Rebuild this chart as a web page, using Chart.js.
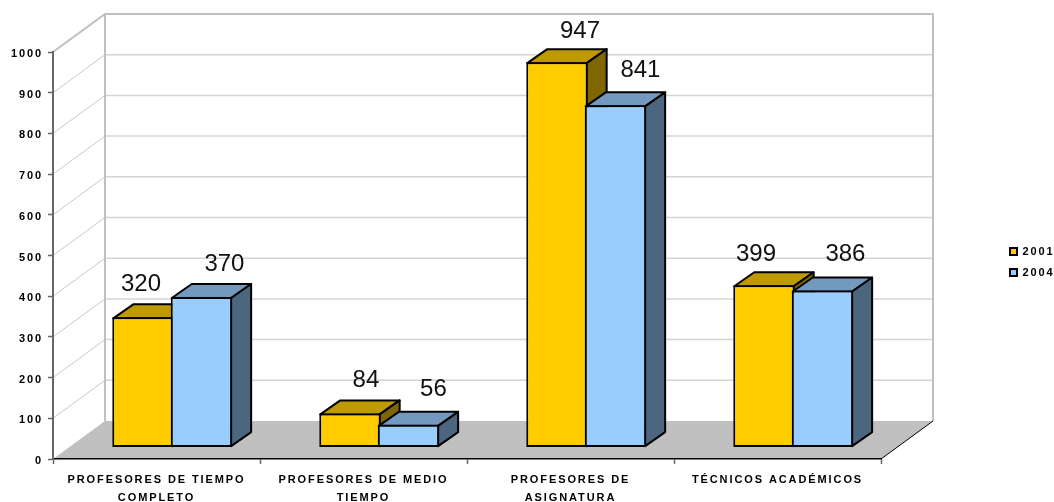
<!DOCTYPE html>
<html lang="es">
<head>
    <meta charset="UTF-8">
    <title>Personal académico 2001 - 2004</title>
    <script src="https://cdn.jsdelivr.net/npm/chart.js"></script>
    <style>
        html, body { margin: 0; padding: 0; background: #fff; }
        canvas { display: block; }
    </style>
</head>
<body>
    <canvas id="grafica" width="1054" height="502"></canvas>
    <script>
        const categorias = [
            ['PROFESORES DE TIEMPO', 'COMPLETO'],
            ['PROFESORES DE MEDIO', 'TIEMPO'],
            ['PROFESORES DE', 'ASIGNATURA'],
            'TÉCNICOS ACADÉMICOS'
        ];
        const valores2001 = [320, 84, 947, 399];
        const valores2004 = [370, 56, 841, 386];

        // desplazamiento de cada etiqueta respecto al centro y la cara superior de su barra
        const ajusteEtiquetas = [
            [[-2, -33], [16, -33], [23, -31], [-8, -31]],
            [[23, -33], [25, -35], [25, -35], [23, -36]]
        ];

        const ESPACIADO = '1.9px';
        const muro = { dx: 52, dy: 38 };     // fondo de la caja 3D
        const base = { dx: 15.7, dy: 11.4 }; // las barras se apoyan a media profundidad
        const prof = { dx: 20, dy: 14 };     // profundidad de cada barra
        const caras = [
            { arriba: '#BF9900', lado: '#806600' },
            { arriba: '#7399BF', lado: '#4D6680' }
        ];

        function poligono(ctx, puntos, relleno) {
            ctx.beginPath();
            puntos.forEach((p, i) => i ? ctx.lineTo(p[0], p[1]) : ctx.moveTo(p[0], p[1]));
            ctx.closePath();
            ctx.fillStyle = relleno;
            ctx.fill();
            ctx.stroke();
        }

        const caja3D = {
            id: 'caja3D',
            beforeLayout(chart) {
                chart.ctx.letterSpacing = ESPACIADO;
            },
            afterLayout(chart) {
                // leyenda fuera del area del grafico
                Object.assign(chart.legend, { left: 1000, right: 1054, top: 236, bottom: 330 });
            },
            beforeDraw(chart) {
                const ctx = chart.ctx;
                const { left, right, top, bottom } = chart.chartArea;
                ctx.letterSpacing = ESPACIADO;
                ctx.save();

                // suelo
                ctx.fillStyle = '#C0C0C0';
                ctx.beginPath();
                ctx.moveTo(left, bottom);
                ctx.lineTo(left + muro.dx, bottom - muro.dy);
                ctx.lineTo(right + muro.dx, bottom - muro.dy);
                ctx.lineTo(right, bottom);
                ctx.closePath();
                ctx.fill();

                // rejilla del fondo y de la pared izquierda
                chart.scales.y.ticks.forEach(t => {
                    const y = chart.scales.y.getPixelForValue(t.value);
                    if (t.value === 0) return;
                    ctx.strokeStyle = '#C8C8C8';
                    ctx.lineWidth = 1;
                    ctx.beginPath();
                    ctx.moveTo(left, y);
                    ctx.lineTo(left + muro.dx, y - muro.dy);
                    ctx.stroke();
                    ctx.strokeStyle = '#D4D4D4';
                    ctx.lineWidth = 1.5;
                    ctx.beginPath();
                    ctx.moveTo(left + muro.dx, y - muro.dy);
                    ctx.lineTo(right + muro.dx, y - muro.dy);
                    ctx.stroke();
                });

                // contorno de los muros
                ctx.strokeStyle = '#C0C0C0';
                ctx.lineWidth = 2;
                ctx.beginPath();
                ctx.moveTo(left, top);
                ctx.lineTo(left + muro.dx, top - muro.dy);
                ctx.lineTo(right + muro.dx, top - muro.dy);
                ctx.lineTo(right + muro.dx, bottom - muro.dy);
                ctx.moveTo(left + muro.dx, top - muro.dy);
                ctx.lineTo(left + muro.dx, bottom - muro.dy);
                ctx.stroke();

                // borde derecho del suelo
                ctx.strokeStyle = '#000';
                ctx.lineWidth = 1;
                ctx.beginPath();
                ctx.moveTo(right, bottom);
                ctx.lineTo(right + muro.dx, bottom - muro.dy);
                ctx.stroke();
                ctx.restore();
            },
            beforeDatasetsDraw(chart) {
                const ctx = chart.ctx;
                // izquierda a derecha: cada barra tapa el lateral de la anterior
                chart.data.datasets.forEach((ds, i) => {
                    const meta = chart.getDatasetMeta(i);
                    ctx.save();
                    ctx.translate(base.dx, -base.dy);
                    ctx.strokeStyle = '#000';
                    ctx.lineWidth = 2;
                    ctx.lineJoin = 'round';
                    meta.data.forEach(barra => {
                        const { x, y, base: y0, width } = barra.getProps(['x', 'y', 'base', 'width'], true);
                        const x0 = x - width / 2 + 1, x1 = x + width / 2 - 1;
                        const yArriba = y + 1, yAbajo = y0 - 1;
                        poligono(ctx, [[x0, yArriba], [x0 + prof.dx, yArriba - prof.dy], [x1 + prof.dx, yArriba - prof.dy], [x1, yArriba]], caras[i].arriba);
                        poligono(ctx, [[x1, yArriba], [x1 + prof.dx, yArriba - prof.dy], [x1 + prof.dx, yAbajo - prof.dy], [x1, yAbajo]], caras[i].lado);
                    });
                    meta.controller.draw();
                    ctx.restore();
                });

                // etiquetas de valor
                ctx.save();
                ctx.letterSpacing = '0px';
                ctx.font = '24px "Liberation Sans", Arial, sans-serif';
                ctx.fillStyle = '#111';
                ctx.textAlign = 'center';
                ctx.textBaseline = 'middle';
                chart.data.datasets.forEach((ds, i) => {
                    chart.getDatasetMeta(i).data.forEach((barra, j) => {
                        const aj = ajusteEtiquetas[i][j];
                        ctx.fillText(String(ds.data[j]), barra.x + base.dx + aj[0], barra.y - base.dy + aj[1]);
                    });
                });
                ctx.restore();
                return false;
            }
        };

        const fuenteEjes = { family: '"Liberation Sans", Arial, sans-serif', size: 11, weight: 'bold' };

        new Chart(document.getElementById('grafica'), {
            type: 'bar',
            data: {
                labels: categorias,
                datasets: [
                    { label: '2001', data: valores2001, backgroundColor: '#FFCC00' },
                    { label: '2004', data: valores2004, backgroundColor: '#99CCFF' }
                ]
            },
            options: {
                responsive: false,
                animation: false,
                layout: { padding: { top: 52, right: 173, left: 0, bottom: 0 } },
                datasets: {
                    bar: {
                        categoryPercentage: 0.565,
                        barPercentage: 1.05,
                        borderColor: '#000',
                        borderWidth: 2,
                        borderSkipped: false
                    }
                },
                plugins: {
                    legend: {
                        position: 'chartArea',
                        align: 'start',
                        labels: { boxWidth: 7, boxHeight: 7, padding: 10, color: '#000', font: fuenteEjes }
                    },
                    tooltip: { enabled: false }
                },
                scales: {
                    x: {
                        afterFit(s) { s.height = 43; },
                        border: { color: '#000', width: 1.5 },
                        grid: { drawOnChartArea: false, tickLength: 5, tickColor: '#666', tickWidth: 1.5 },
                        ticks: {
                            color: '#000',
                            font: { ...fuenteEjes, lineHeight: 1.64 },
                            padding: 7,
                            maxRotation: 0,
                            autoSkip: false
                        }
                    },
                    y: {
                        min: 0,
                        max: 1000,
                        afterFit(s) { s.width = 53; },
                        border: { color: '#666', width: 2 },
                        grid: { drawOnChartArea: false, tickLength: 5, tickColor: '#666', tickWidth: 1.5 },
                        ticks: { stepSize: 100, color: '#000', font: fuenteEjes, padding: 5, labelOffset: 2, callback: v => String(v) }
                    }
                }
            },
            plugins: [caja3D]
        });
    </script>
</body>
</html>
